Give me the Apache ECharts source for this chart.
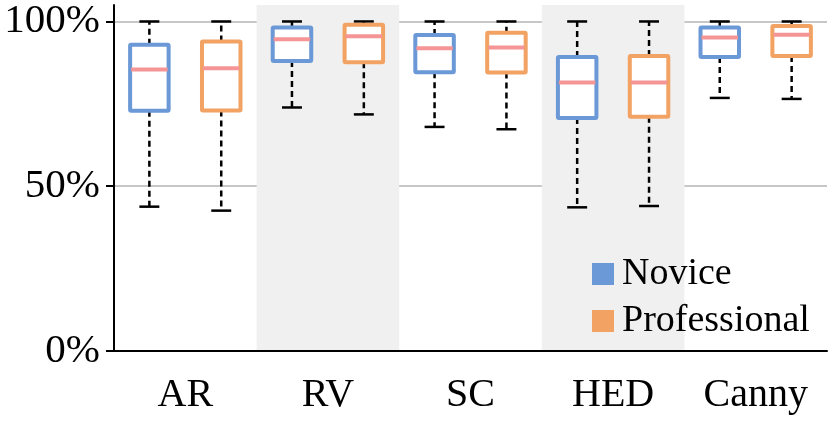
<!DOCTYPE html>
<html>
<head>
<meta charset="utf-8">
<script src="https://cdn.jsdelivr.net/npm/echarts@6/dist/echarts.min.js"></script>
<style>
  html, body { margin: 0; padding: 0; background: #fff; }
  #chart { width: 831px; height: 431px; }
</style>
</head>
<body>
<div id="chart"></div>
<script>
// methods on the x axis
const categories = ['AR', 'RV', 'SC', 'HED', 'Canny'];
const seriesNames = ['Novice', 'Professional'];
const yTicks = [0, 50, 100];

// [low whisker, Q1, median, Q3, high whisker] in %
const novice = [
    [43.8, 72.9, 85.4, 92.9, 100],
    [73.9, 88.0, 94.6, 98.2, 100],
    [68.0, 84.6, 91.9, 95.9, 100],
    [43.6, 70.7, 81.5, 89.2, 100],
    [76.8, 89.2, 95.1, 98.2, 100]
];
const professional = [
    [42.6, 73.0, 85.8, 93.9, 100],
    [71.8, 87.6, 95.5, 99.0, 100],
    [67.3, 84.5, 92.1, 96.6, 100],
    [44.0, 71.1, 81.5, 89.5, 100],
    [76.5, 89.5, 96.0, 98.6, 100]
];

const colors = ['#6b98d6', '#f2a263'];
const medianColor = '#f59595';
const font = 'Liberation Serif';

function boxRenderer(offset, color) {
    return function (params, api) {
        const cat = api.value(0);
        const lo = api.coord([cat, api.value(1)]);
        const q1 = api.coord([cat, api.value(2)]);
        const md = api.coord([cat, api.value(3)]);
        const q3 = api.coord([cat, api.value(4)]);
        const hi = api.coord([cat, api.value(5)]);
        const band = api.size([1, 0])[0];
        const x = lo[0] + band * offset;
        const bw = band * 0.27;
        const cw = band * 0.14;
        const dashed = { stroke: '#000', lineWidth: 2.5, lineDash: [6, 4] };
        const solid = { stroke: '#000', lineWidth: 2.5 };
        return {
            type: 'group',
            children: [
                { type: 'line', shape: { x1: x, y1: q3[1], x2: x, y2: hi[1] }, style: dashed },
                { type: 'line', shape: { x1: x, y1: q1[1], x2: x, y2: lo[1] }, style: dashed },
                { type: 'line', shape: { x1: x - cw / 2, y1: hi[1], x2: x + cw / 2, y2: hi[1] }, style: solid },
                { type: 'line', shape: { x1: x - cw / 2, y1: lo[1], x2: x + cw / 2, y2: lo[1] }, style: solid },
                {
                    type: 'rect',
                    shape: { x: x - bw / 2, y: q3[1], width: bw, height: q1[1] - q3[1], r: 1 },
                    style: { fill: '#fff', stroke: color, lineWidth: 4, lineJoin: 'round' }
                },
                {
                    type: 'line',
                    shape: { x1: x - bw / 2 + 1, y1: md[1], x2: x + bw / 2 - 1, y2: md[1] },
                    style: { stroke: medianColor, lineWidth: 4 }
                }
            ]
        };
    };
}

function toData(rows) {
    return rows.map((r, i) => [i].concat(r));
}

const chart = echarts.init(document.getElementById('chart'));
const option = {
    animation: false,
    grid: { left: 114, right: 4, top: 5, bottom: 80 },
    legend: {
        data: seriesNames,
        orient: 'vertical',
        left: 587,
        top: 250,
        icon: 'rect',
        itemWidth: 22,
        itemHeight: 22,
        itemGap: 9,
        textStyle: { fontFamily: font, fontSize: 38, lineHeight: 38, color: '#000', padding: [0, 0, 0, 3] }
    },
    xAxis: {
        type: 'category',
        data: categories,
        axisLine: { lineStyle: { color: '#000', width: 2 } },
        axisTick: { show: false },
        axisLabel: { fontFamily: font, fontSize: 40, color: '#000', margin: 24 },
        splitArea: { show: true, areaStyle: { color: ['rgba(0,0,0,0)', '#f0f0f0'] } }
    },
    yAxis: {
        type: 'value',
        min: 0,
        max: 105,
        interval: 50,
        axisLine: { show: true, lineStyle: { color: '#000', width: 2 } },
        axisTick: { show: true, length: 8, customValues: yTicks, lineStyle: { color: '#000', width: 2 } },
        axisLabel: {
            fontFamily: font, fontSize: 41, color: '#000', margin: 14,
            customValues: yTicks,
            formatter: v => (v % 50 === 0 ? v + '%' : '')
        },
        splitLine: { show: true, lineStyle: { color: '#b4b4b4', width: 1.5 } }
    },
    series: [
        {
            name: seriesNames[0],
            type: 'custom',
            itemStyle: { color: colors[0] },
            encode: { x: 0, y: [1, 2, 3, 4, 5] },
            renderItem: boxRenderer(-0.252, colors[0]),
            data: toData(novice)
        },
        {
            name: seriesNames[1],
            type: 'custom',
            itemStyle: { color: colors[1] },
            encode: { x: 0, y: [1, 2, 3, 4, 5] },
            renderItem: boxRenderer(0.252, colors[1]),
            data: toData(professional)
        }
    ]
};
chart.setOption(option);
</script>
</body>
</html>
